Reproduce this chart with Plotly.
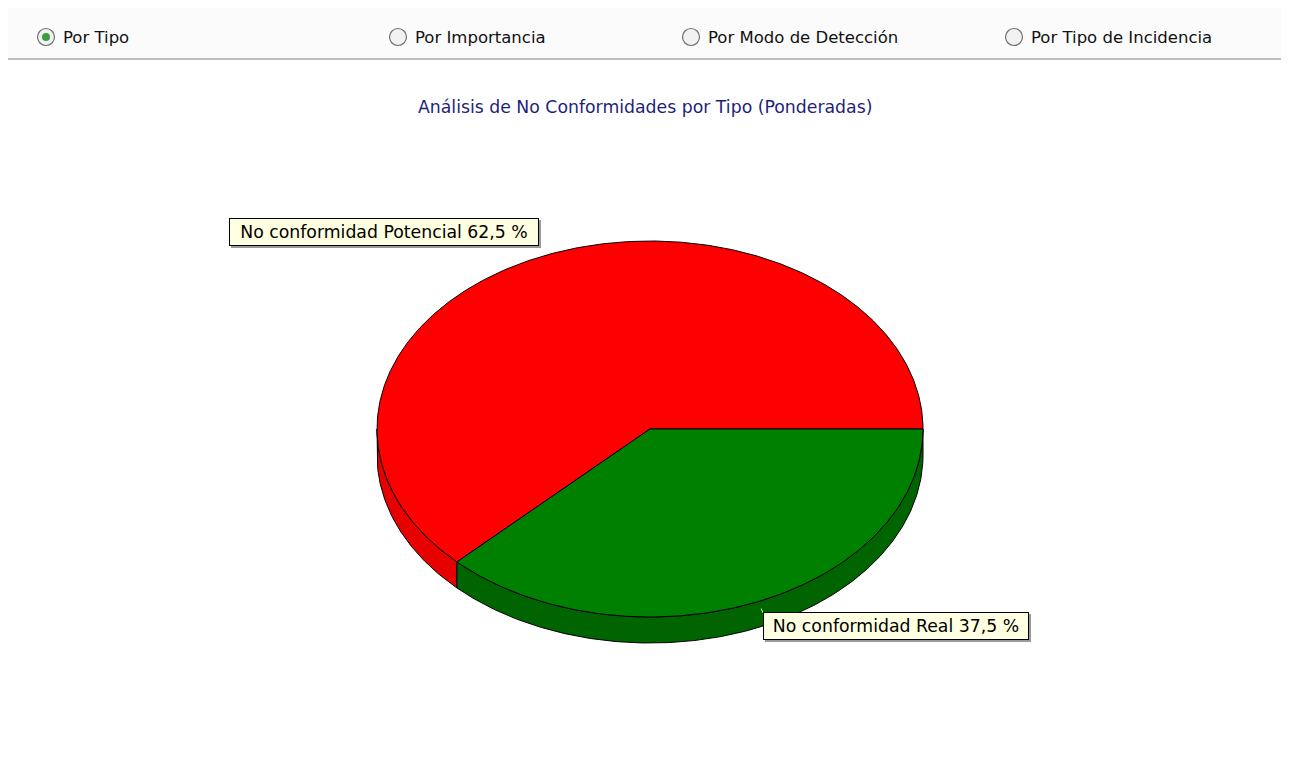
import numpy as np
import plotly.graph_objects as go

# ---------------- data ----------------
categories = ["No conformidad Potencial", "No conformidad Real"]
values = [62.5, 37.5]
label_texts = ["No conformidad Potencial 62,5 %", "No conformidad Real 37,5 %"]
top_colors = ["#ff0000", "#008000"]
side_colors = ["#e60000", "#006400"]
radio_labels = ["Por Tipo", "Por Importancia", "Por Modo de Detección", "Por Tipo de Incidencia"]
radio_selected = [True, False, False, False]
chart_title = "Análisis de No Conformidades por Tipo (Ponderadas)"

# ---------------- geometry / style ----------------
PAGE_W, PAGE_H = 1289, 773
OFF = 8  # default body margin of the html page
W, H = PAGE_W - 2 * OFF, PAGE_H - 2 * OFF
cx, cy, rx, ry, depth = 650, 429, 273, 188, 26
start_deg = 135.0
radio_x = [46, 398, 691, 1014]
radio_y = 37
radio_r = 8.5
label_pos = [(229, 232), (763, 626)]
label_widths = [302, 258]
FONT = "DejaVu Sans"

fig = go.Figure()


def arc(a0, a1, yoff=0.0, n=None):
    if n is None:
        n = max(int(abs(a1 - a0)) * 2, 4)
    t = np.radians(np.linspace(a0, a1, n))
    return cx + rx * np.cos(t), cy + yoff + ry * np.sin(t)


total = float(sum(values))
bounds = []
a = start_deg
for v in values:
    b = a + 360.0 * v / total
    bounds.append((a, b))
    a = b

# side (depth) faces: only the front half (0..180 deg, screen clockwise)
for (a0, a1), sc in zip(bounds, side_colors):
    for k in range(-1, 3):
        s = max(a0, 360 * k)
        e = min(a1, 360 * k + 180)
        if e > s:
            xt, yt = arc(s, e)
            xb, yb = arc(e, s, depth)
            xs = np.concatenate([xt, xb, xt[:1]])
            ys = np.concatenate([yt, yb, yt[:1]])
            fig.add_trace(go.Scatter(x=xs, y=ys, mode="lines", fill="toself",
                                     fillcolor=sc, line=dict(color="#000000", width=1),
                                     hoverinfo="skip", showlegend=False))

# top faces
for (a0, a1), tc in zip(bounds, top_colors):
    xa, ya = arc(a0, a1)
    xs = np.concatenate([[cx], xa, [cx]])
    ys = np.concatenate([[cy], ya, [cy]])
    fig.add_trace(go.Scatter(x=xs, y=ys, mode="lines", fill="toself",
                             fillcolor=tc, line=dict(color="#000000", width=1),
                             hoverinfo="skip", showlegend=False))

# small leader for the "Real" label
lx0 = cx + rx * np.cos(np.radians(66))
ly0 = cy + ry * np.sin(np.radians(66)) + depth * 0.3
fig.add_trace(go.Scatter(x=[lx0, lx0 + 5], y=[ly0, ly0 + 10], mode="lines",
                         line=dict(color="#c8ffc8", width=1), hoverinfo="skip",
                         showlegend=False))

shapes = []
annotations = []

# top band & separator
shapes.append(dict(type="rect", x0=0, x1=PAGE_W, y0=0, y1=58, fillcolor="#fbfbfb",
                   line=dict(width=0), layer="below"))
shapes.append(dict(type="line", x0=7, x1=PAGE_W, y0=59, y1=59,
                   line=dict(color="#a9a9a9", width=1.5)))

# radio buttons
for rxp, lab, sel in zip(radio_x, radio_labels, radio_selected):
    shapes.append(dict(type="circle", x0=rxp - radio_r, x1=rxp + radio_r,
                       y0=radio_y - radio_r, y1=radio_y + radio_r, fillcolor="#f2f2f2",
                       line=dict(color="#6f6f6f", width=1.2)))
    if sel:
        shapes.append(dict(type="circle", x0=rxp - 3.8, x1=rxp + 3.8, y0=radio_y - 3.8,
                           y1=radio_y + 3.8, fillcolor="#3aa03a",
                           line=dict(color="#2f8a2f", width=0.5)))
    annotations.append(dict(x=rxp + radio_r + 6, y=radio_y, text=lab, showarrow=False,
                            xanchor="left", yanchor="middle",
                            font=dict(family=FONT, size=16.5, color="#111111")))

# title
annotations.append(dict(x=645, y=107, text=chart_title, showarrow=False,
                        xanchor="center", yanchor="middle",
                        font=dict(family=FONT, size=17.3, color="#1f1f7a")))

# slice labels (with a small drop shadow)
for (lxp, lyp), txt, wd in zip(label_pos, label_texts, label_widths):
    annotations.append(dict(x=lxp + 2, y=lyp + 2, text=txt, showarrow=False,
                            xanchor="left", yanchor="middle", width=wd, align="center",
                            bgcolor="#9a9a9a", bordercolor="#9a9a9a", borderwidth=1,
                            borderpad=3,
                            font=dict(family=FONT, size=17.3, color="rgba(0,0,0,0)")))
    annotations.append(dict(x=lxp, y=lyp, text=txt, showarrow=False,
                            xanchor="left", yanchor="middle", width=wd, align="center",
                            bgcolor="#ffffe1", bordercolor="#000000", borderwidth=1,
                            borderpad=3,
                            font=dict(family=FONT, size=17.3, color="#000000")))

fig.update_layout(
    width=W, height=H,
    margin=dict(l=0, r=0, t=0, b=0),
    paper_bgcolor="#ffffff", plot_bgcolor="#ffffff",
    xaxis=dict(range=[OFF, OFF + W], visible=False, fixedrange=True),
    yaxis=dict(range=[OFF + H, OFF], visible=False, fixedrange=True),
    shapes=shapes, annotations=annotations,
    showlegend=False,
)

fig.write_html("out.html")
